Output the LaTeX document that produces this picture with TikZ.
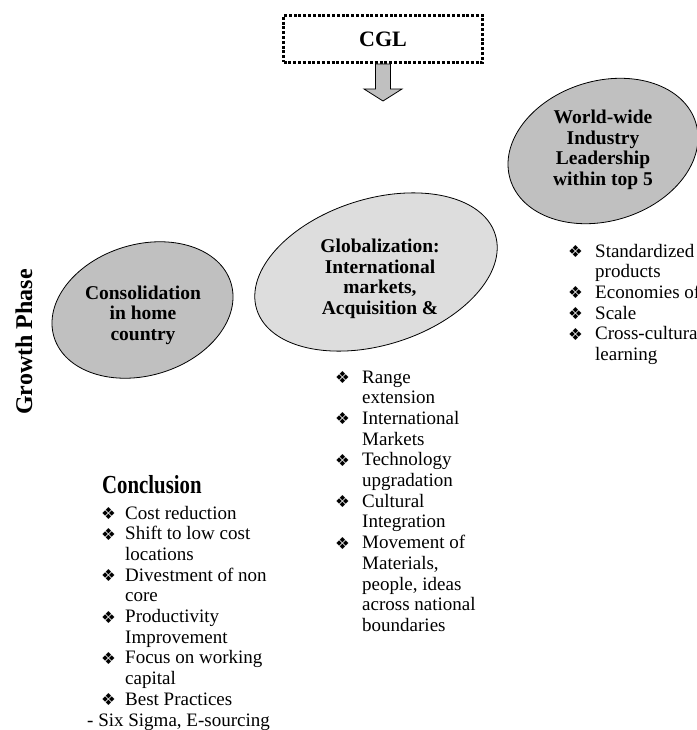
\documentclass[tikz,border=0pt]{standalone}
\usepackage{fontspec}
\usepackage{graphicx}
\setmainfont{Liberation Serif}
\newfontfamily\symfont{DejaVu Sans}
\usetikzlibrary{calc,shapes.geometric}

\definecolor{ovalgray}{HTML}{C0C0C0}
\definecolor{ovallight}{HTML}{DDDDDD}
\definecolor{arrowgray}{HTML}{C0C0C0}

% list bullet
\newcommand\bul{{\symfont\fontsize{16.5}{16.5}\selectfont\raisebox{-0.5pt}{❖}}}

\begin{document}
\begin{tikzpicture}[x=1pt,y=-1pt,
  bodytext/.style={font=\fontsize{19}{20.7}\selectfont, inner sep=0pt, anchor=base west},
  ovaltxt/.style={font=\bfseries\fontsize{19.5}{20.5}\selectfont, align=center, inner sep=0pt},
  ovalshape/.style={ellipse, draw=black, line width=0.8pt, inner sep=0pt},
  ovaldark/.style={ovalshape, fill=ovalgray},
  ovallite/.style={ovalshape, fill=ovallight},
  dotbox/.style={draw=black, line width=3pt, dash pattern=on 3pt off 1.8pt,
    minimum width=199pt, minimum height=47pt, inner sep=0pt,
    font=\bfseries\fontsize{22}{22}\selectfont},
  blockarrow/.style={draw=black, line width=0.8pt, fill=arrowgray, line join=miter},
  sidelabel/.style={font=\bfseries\fontsize{24}{24}\selectfont, rotate=90, inner sep=0pt},
  headline/.style={font=\bfseries\fontsize{26}{26}\selectfont, inner sep=0pt, anchor=base west}
]
\useasboundingbox (0,0) rectangle (696,730);

% top box and the block arrow below it
\node[dotbox] (cgl) at (383,39) {CGL};
\draw[blockarrow] (cgl.south) ++(-7.5,0) -- ++(0,25) -- ++(-11.5,0) -- ++(19,12)
  -- ++(19,-12) -- ++(-11.5,0) -- ++(0,-25) -- cycle;

% vertical axis label
\node[sidelabel] (growth) at (24,342) {Growth Phase};

% the three growth stages
\node[ovaldark, rotate=17, minimum width=185pt, minimum height=131pt] (cons) at (142.5,310) {};
\node[ovaltxt] (constxt) at ($(cons.center)+(0.5,5)$) {Consolidation\\in home\\country};

\node[ovallite, rotate=17.5, minimum width=250pt, minimum height=146pt] (glob) at (376,272) {};
\node[ovaltxt] (globtxt) at ($(glob.center)+(4,7)$) {Globalization:\\International\\markets,\\Acquisition \&};

\node[ovaldark, rotate=17, minimum width=194pt, minimum height=140pt] (world) at (603,151) {};
\node[ovaltxt] (worldtxt) at ($(world.center)+(0,-1)$) {World-wide\\Industry\\Leadership\\within top 5};

% bullet lists under each stage
\node[bodytext] (globlist) at (335,383) {%
\begin{tabular}[t]{@{}p{27pt}@{}l@{}}
\bul & Range\\
     & extension\\
\bul & International\\
     & Markets\\
\bul & Technology\\
     & upgradation\\
\bul & Cultural\\
     & Integration\\
\bul & Movement of\\
     & Materials,\\
     & people, ideas\\
     & across national\\
     & boundaries
\end{tabular}};

\node[bodytext] (worldlist) at (568,257) {%
\begin{tabular}[t]{@{}p{27pt}@{}l@{}}
\bul & Standardized\\
     & products\\
\bul & Economies of\\
\bul & Scale\\
\bul & Cross-cultural\\
     & learning
\end{tabular}};

\node[headline] (conctitle) at (102,493) {\scalebox{0.8}[1]{Conclusion}};
\node[bodytext] (conclist) at (101,519) {%
\begin{tabular}[t]{@{}p{24pt}@{}l@{}}
\bul & Cost reduction\\
\bul & Shift to low cost\\
     & locations\\
\bul & Divestment of non\\
     & core\\
\bul & Productivity\\
     & Improvement\\
\bul & Focus on working\\
     & capital\\
\bul & Best Practices\\
\multicolumn{2}{@{}l@{}}{\hspace*{-14pt}- Six Sigma, E-sourcing}
\end{tabular}};
\end{tikzpicture}
\end{document}
